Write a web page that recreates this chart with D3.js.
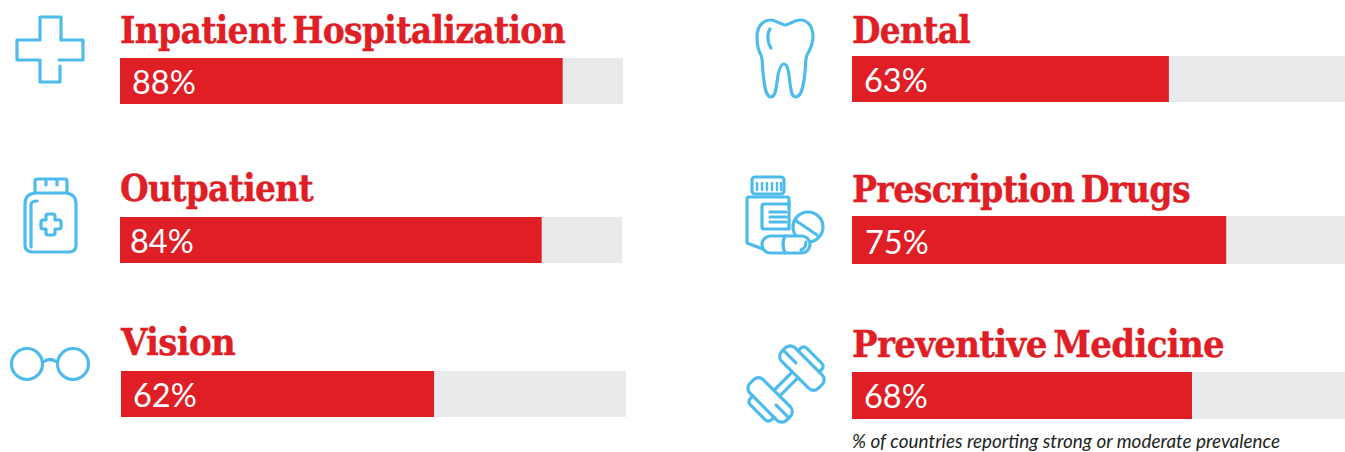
<!DOCTYPE html>
<html><head><meta charset="utf-8">
<script src="https://cdnjs.cloudflare.com/ajax/libs/d3/7.8.5/d3.min.js"></script>
<style>html,body{margin:0;padding:0;background:#fff;overflow:hidden}svg{display:block}</style>
</head><body><div id="c"></div>
<script>
const categories = ["Inpatient Hospitalization","Outpatient","Vision","Dental","Prescription Drugs","Preventive Medicine"];
const values = [88,84,62,63,75,68];
const footnote = "% of countries reporting strong or moderate prevalence";

// layout only
const rowX   = [120,120,121,852,852,852];
const rowTop = [58,217,371,56,216,372];
const rowH   = [46,46,46,46,48,47];
const rowW   = [503,502,505,503,499,500];
const titleBase = [43,201,355,43,202,357];
const titleLen  = [445,193,114,118,338,372];
const labelX = [132,130,133,864,865,864];
const labelBase = [94,253,407,92,254,408];

const RED="#e01e25", GREY="#e9eaeb", BLUE="#4dbcec";
const svg=d3.select("#c").append("svg").attr("width",1345).attr("height",452);

const rows=categories.map((c,i)=>({c,v:values[i],i}));
const g=svg.selectAll("g.row").data(rows).join("g").attr("class","row");
g.each(function(d){
  const x=d3.scaleLinear().domain([0,100]).range([rowX[d.i],rowX[d.i]+rowW[d.i]]);
  const s=d3.select(this);
  s.append("rect").attr("x",x(0)).attr("y",rowTop[d.i]).attr("height",rowH[d.i]).attr("width",x(100)-x(0)).attr("fill",GREY);
  s.append("rect").attr("x",x(0)).attr("y",rowTop[d.i]).attr("height",rowH[d.i]).attr("width",x(d.v)-x(0)).attr("fill",RED);
  s.append("text").text(d.c).attr("x",x(0)).attr("y",titleBase[d.i])
    .attr("textLength",titleLen[d.i]).attr("lengthAdjust","spacingAndGlyphs")
    .attr("font-family","'DejaVu Serif'").attr("font-weight",700).attr("font-size",38)
    .attr("letter-spacing",-0.8).attr("word-spacing",-5)
    .attr("fill",RED).attr("stroke",RED).attr("stroke-width",0.4);
  s.append("text").text(d.v+"%").attr("x",labelX[d.i]).attr("y",labelBase[d.i])
    .attr("font-family","'Lato'").attr("font-size",32.5).attr("fill","#fff");
});
svg.append("text").text(footnote).attr("x",852).attr("y",447.5).attr("textLength",428).attr("lengthAdjust","spacingAndGlyphs")
  .attr("font-family","'Lato'").attr("font-style","italic").attr("font-size",19).attr("fill","#231f20");

// icons
const ic=svg.append("g").attr("fill","none").attr("stroke",BLUE).attr("stroke-width",3.2).attr("stroke-linecap","round").attr("stroke-linejoin","round");
const P=(d,par=ic)=>par.append("path").attr("d",d);
// cross
P("M60,66V82H40V60H17V40H40V17H61V40H83V60H59");
// jar
P("M35,193V181Q35,179 37,179H65Q67,179 67,181V193M46,179V185M57,179V185");
P("M35,193H66Q76,194 76,204V245Q76,252 69,252H33Q25,252 25,245V204Q25,194 35,193Z");
P("M37,201Q31,201 31,205V247");
P("M46,216Q46,214 48,214H53Q55,214 55,216V220H59Q61,220 61,222V227Q61,229 59,229H55V233Q55,235 53,235H48Q46,235 46,233V229H43Q41,229 41,227V222Q41,220 43,220H46Z");
// glasses
ic.append("circle").attr("cx",27).attr("cy",364).attr("r",15.5);
ic.append("circle").attr("cx",73).attr("cy",364).attr("r",15.5);
P("M43,362Q50,357 57,362");
// tooth
P("M757,37C757,26 763,20 771,20C776,20 781,25 785,25C789,25 794,20 800,20C809,20 813,28 813,37C813,44 810,50 807,55C805,60 806,65 805,72C804,80 803,96 796,97C791,97 791,90 790,83C789,74 788,64 784,64C780,64 778,74 777,82C776,90 775,97 771,97C765,97 764,82 763,72C762,65 763,60 761,55C758,50 757,44 757,37Z");
P("M770,29C767,33 767,42 771,48");
// prescription
ic.append("rect").attr("x",752).attr("y",177).attr("width",32).attr("height",17).attr("rx",3);
P("M757,183V190M762,183V190M767,183V190M772,183V190M777,183V190M781,183V190").attr("stroke-width",2.4);
P("M765,197H787Q789,197 789,199V206M765,197H749Q747,197 747,199V243L763,249");
P("M789,204H764Q762,204 762,206V227Q762,229 764,229H789V204");
P("M770,212H786M770,217H786M770,222H786");
ic.append("circle").attr("cx",808).attr("cy",227).attr("r",15);
P("M795,220L817,235");
ic.append("rect").attr("x",762).attr("y",236).attr("width",48).attr("height",17).attr("rx",8.5).attr("fill","#fff");
P("M785,236Q781,244 785,253");
P("M806,242Q806,248 801,250");
// dumbbell
const db=ic.append("g").attr("transform","translate(786,384) rotate(-45)");
[1,-1].forEach(k=>{
  const h=db.append("g").attr("transform",`scale(${k},1)`);
  h.append("rect").attr("x",13).attr("y",-26).attr("width",19).attr("height",52).attr("rx",7);
  P("M32,-15H35Q40,-15 40,-10V10Q40,15 35,15H32",h);
});
P("M-13,-4H13M-13,4H13",db);
P("M22,-26V-8M-22,26V8",db);
</script></body></html>
